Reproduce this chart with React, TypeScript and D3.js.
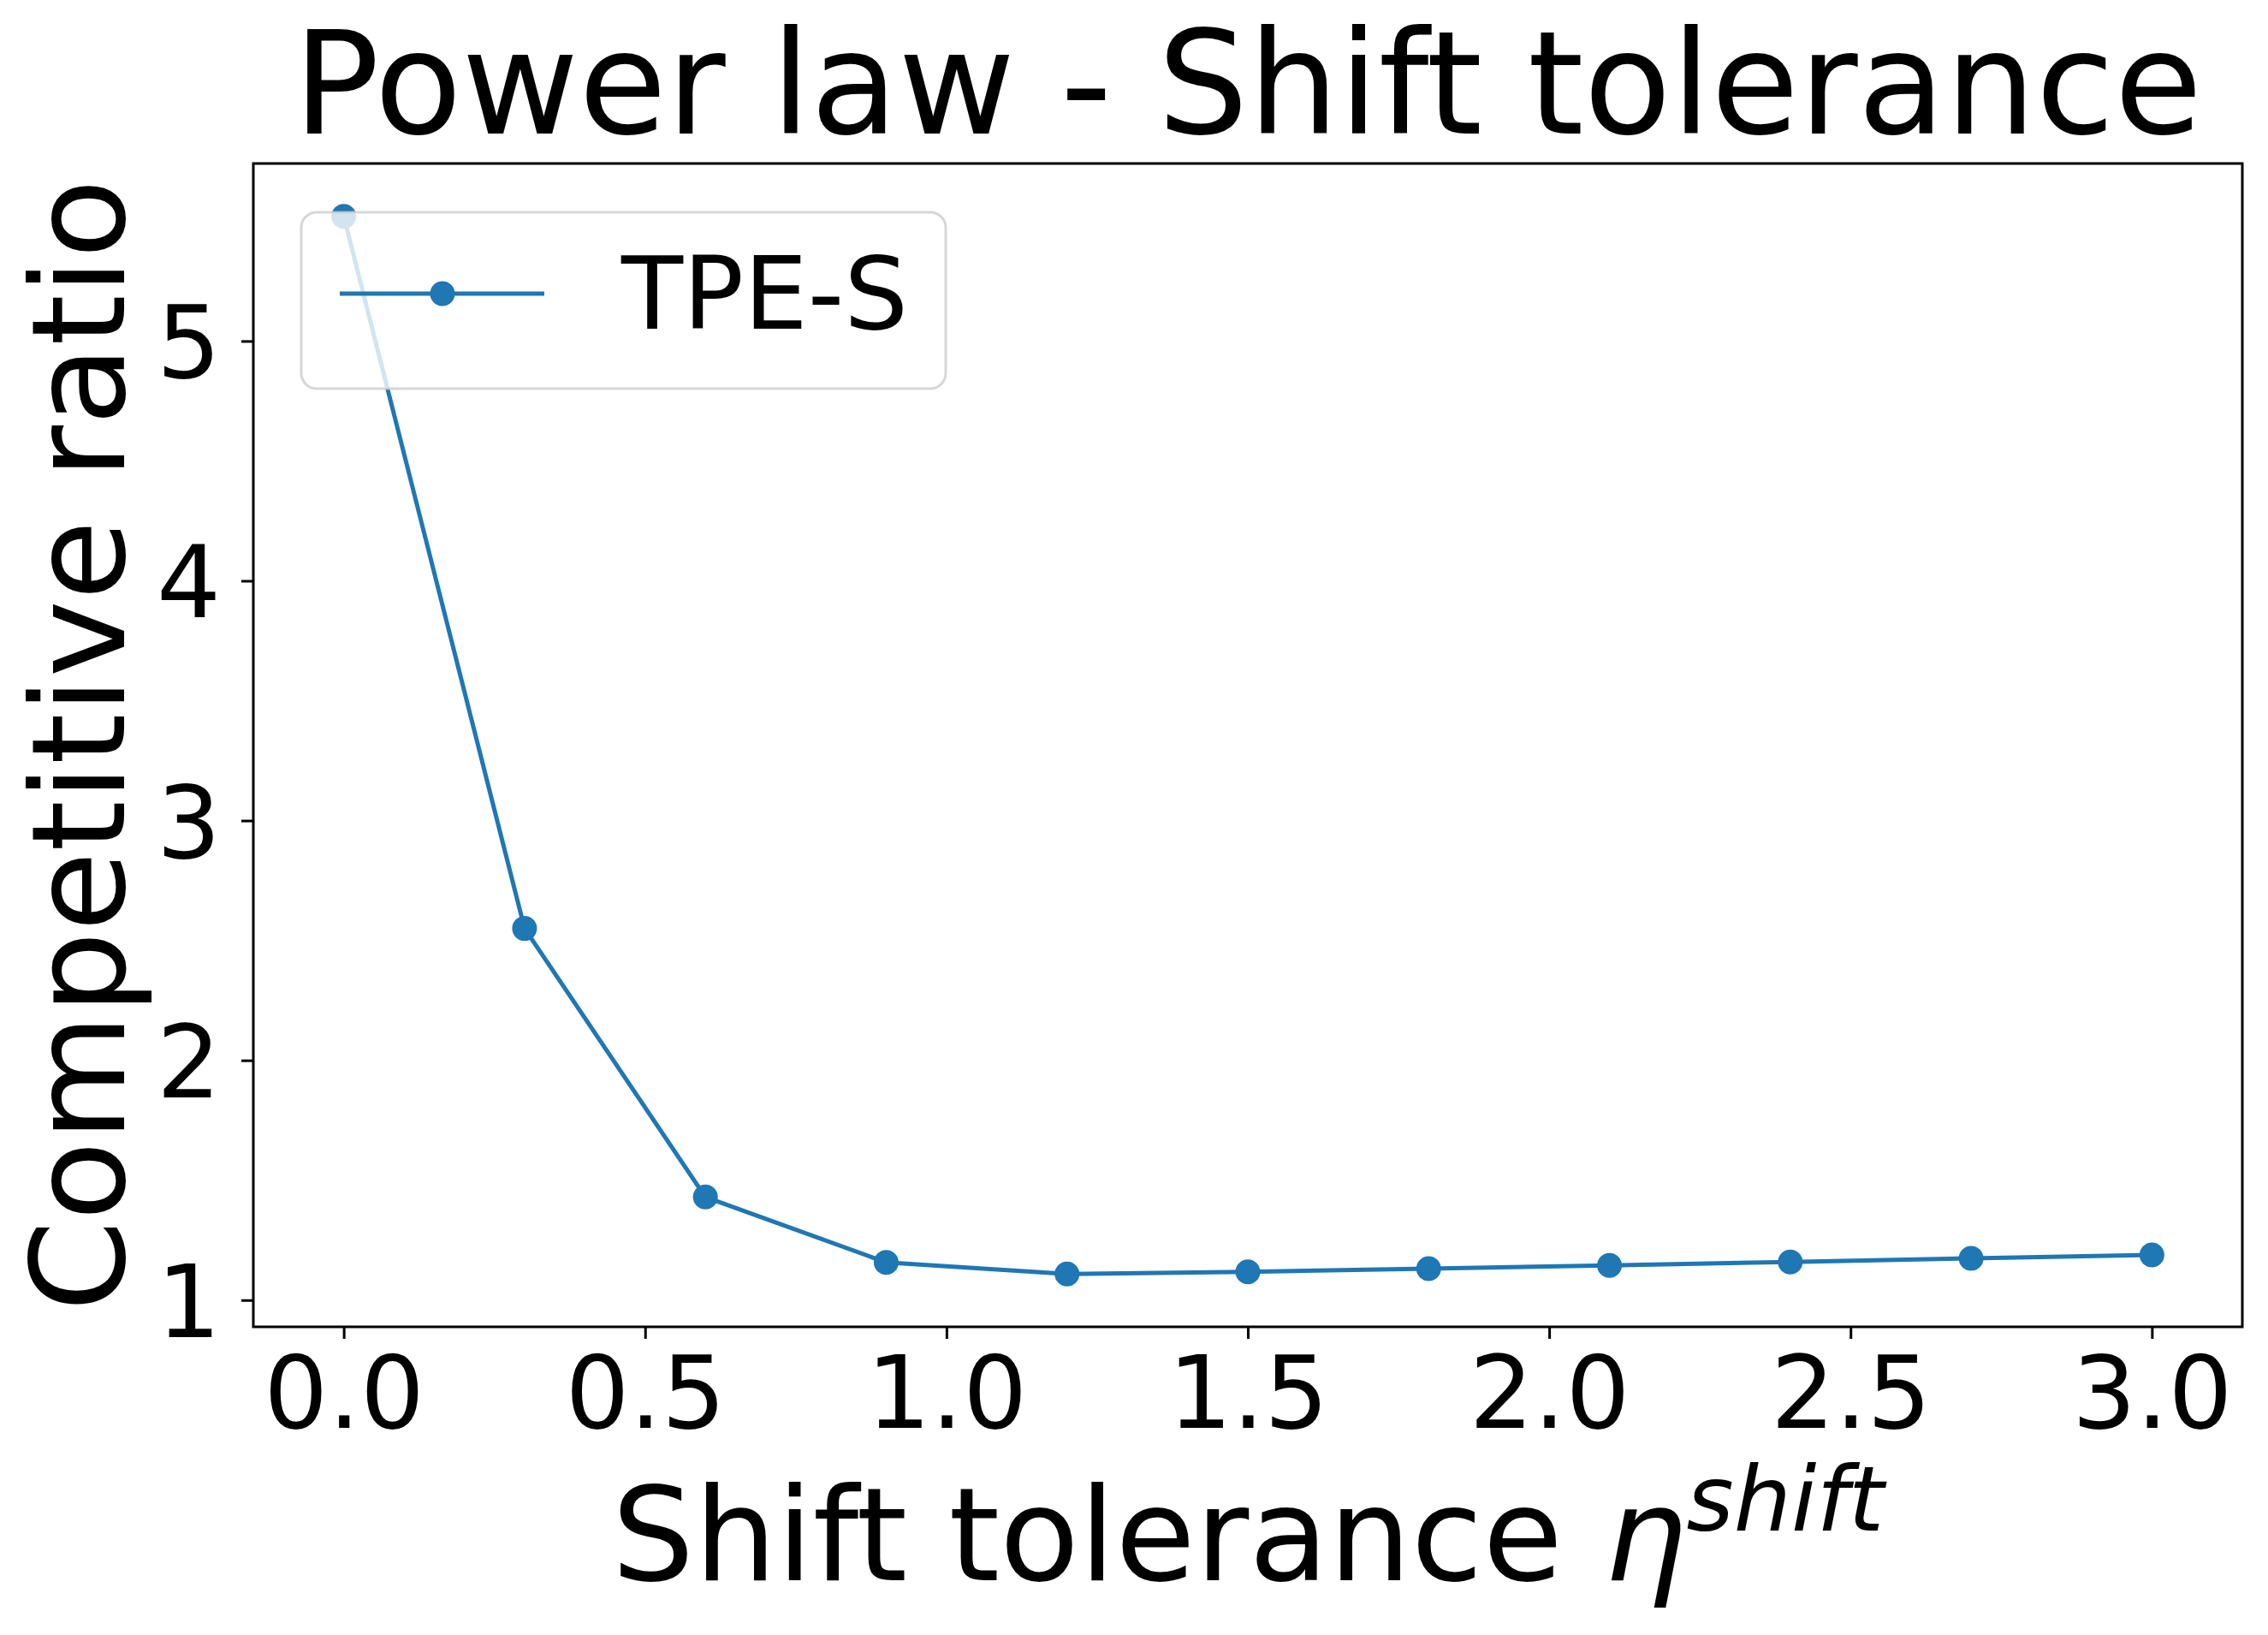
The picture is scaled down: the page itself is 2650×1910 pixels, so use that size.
import React, { useRef, useEffect } from 'react';
import * as d3 from 'd3';

// shift tolerance values (x) and competitive ratio (y) for TPE-S
const shiftTolerance = [0.0, 0.3, 0.6, 0.9, 1.2, 1.5, 1.8, 2.1, 2.4, 2.7, 3.0];
const competitiveRatio = [5.52, 2.55, 1.43, 1.157, 1.109, 1.118, 1.131, 1.145, 1.159, 1.174, 1.188];
const xTicks = [0, 0.5, 1, 1.5, 2, 2.5, 3];
const yTicks = [1, 2, 3, 4, 5];
const seriesName = 'TPE-S';

const W = 2650;
const H = 1910;
const margin = { top: 191, right: 30, bottom: 360, left: 296 };
const FONT = '"DejaVu Sans", sans-serif';
const BLUE = '#1f77b4';

const pad = (lo: number, hi: number) => {
  const m = (hi - lo) * 0.05;
  return [lo - m, hi + m];
};

const Chart = () => {
  const ref = useRef<SVGSVGElement | null>(null);

  useEffect(() => {
    if (!ref.current) {
      return;
    }
    const svg = d3.select(ref.current);
    svg.selectAll('*').remove();

    const x0 = margin.left;
    const x1 = W - margin.right;
    const y0 = H - margin.bottom;
    const y1 = margin.top;

    const points = shiftTolerance.map((v, i) => ({ x: v, y: competitiveRatio[i] }));

    const x = d3
      .scaleLinear()
      .domain(pad(d3.min(shiftTolerance)!, d3.max(shiftTolerance)!))
      .range([x0, x1]);
    const y = d3
      .scaleLinear()
      .domain(pad(d3.min(competitiveRatio)!, d3.max(competitiveRatio)!))
      .range([y0, y1]);

    // data line + markers
    const line = d3
      .line<{ x: number; y: number }>()
      .x((d) => x(d.x))
      .y((d) => y(d.y));

    svg
      .append('path')
      .datum(points)
      .attr('fill', 'none')
      .attr('stroke', BLUE)
      .attr('stroke-width', 5)
      .attr('stroke-linejoin', 'round')
      .attr('d', line);

    svg
      .selectAll('.dot')
      .data(points)
      .join('circle')
      .attr('class', 'dot')
      .attr('cx', (d) => x(d.x))
      .attr('cy', (d) => y(d.y))
      .attr('r', 14.5)
      .attr('fill', BLUE);

    // axes
    const xAxis = d3
      .axisBottom(x)
      .tickValues(xTicks)
      .tickSize(14)
      .tickSizeOuter(0)
      .tickFormat(d3.format('.1f'));
    svg
      .append('g')
      .attr('transform', `translate(0,${y0})`)
      .call(xAxis)
      .call((g) => g.select('.domain').remove())
      .call((g) => g.selectAll('.tick line').attr('stroke', '#000').attr('stroke-width', 3))
      .call((g) =>
        g
          .selectAll('.tick text')
          .attr('y', 118)
          .attr('dy', 0)
          .attr('fill', '#000')
          .style('font-family', FONT)
          .style('font-size', '118px'),
      );

    const yAxis = d3.axisLeft(y).tickValues(yTicks).tickSize(14).tickSizeOuter(0).tickFormat(d3.format('d'));
    svg
      .append('g')
      .attr('transform', `translate(${x0},0)`)
      .call(yAxis)
      .call((g) => g.select('.domain').remove())
      .call((g) => g.selectAll('.tick line').attr('stroke', '#000').attr('stroke-width', 3))
      .call((g) =>
        g
          .selectAll('.tick text')
          .attr('x', -38)
          .attr('dy', '0.36em')
          .attr('fill', '#000')
          .style('font-family', FONT)
          .style('font-size', '118px'),
      );

    // spines
    svg
      .append('rect')
      .attr('x', x0)
      .attr('y', y1)
      .attr('width', x1 - x0)
      .attr('height', y0 - y1)
      .attr('fill', 'none')
      .attr('stroke', '#000')
      .attr('stroke-width', 3);

    // legend (upper left, semi transparent)
    const lg = svg.append('g');
    lg.append('rect')
      .attr('x', 352)
      .attr('y', 248)
      .attr('width', 753)
      .attr('height', 206)
      .attr('rx', 18)
      .attr('fill', '#fff')
      .attr('fill-opacity', 0.8)
      .attr('stroke', '#cccccc')
      .attr('stroke-opacity', 0.8)
      .attr('stroke-width', 3);
    lg.append('line')
      .attr('x1', 397)
      .attr('x2', 636)
      .attr('y1', 343)
      .attr('y2', 343)
      .attr('stroke', BLUE)
      .attr('stroke-width', 5);
    lg.append('circle').attr('cx', 517).attr('cy', 343).attr('r', 14.5).attr('fill', BLUE);
    lg.append('text')
      .attr('x', 726)
      .attr('y', 384)
      .style('font-family', FONT)
      .style('font-size', '118px')
      .text(seriesName);

    // title
    svg
      .append('text')
      .attr('x', (x0 + x1) / 2)
      .attr('y', 156)
      .attr('text-anchor', 'middle')
      .style('font-family', FONT)
      .style('font-size', '167px')
      .text('Power law - Shift tolerance');

    // x label with math
    const xl = svg
      .append('text')
      .attr('x', (x0 + x1) / 2)
      .attr('y', 1846)
      .attr('text-anchor', 'middle')
      .style('font-family', FONT)
      .style('font-size', '152px');
    xl.append('tspan').text('Shift tolerance ');
    xl.append('tspan').style('font-style', 'italic').text('η');
    xl.append('tspan')
      .attr('dy', -58)
      .style('font-style', 'italic')
      .style('font-size', '106px')
      .text('shift');

    // y label
    svg
      .append('text')
      .attr('transform', `translate(145,${(y0 + y1) / 2}) rotate(-90)`)
      .attr('text-anchor', 'middle')
      .style('font-family', FONT)
      .style('font-size', '152px')
      .text('Competitive ratio');
  }, []);

  return (
    <svg
      ref={ref}
      width={W}
      height={H}
      style={{ position: 'absolute', left: 0, top: 0, background: '#fff' }}
    />
  );
};

export default function App() {
  return <Chart />;
}
